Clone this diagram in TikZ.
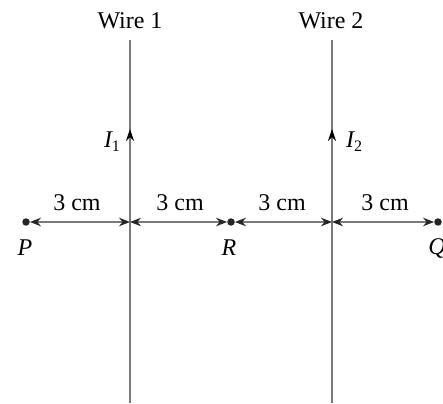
\documentclass[tikz,border=0pt]{standalone}
\usepackage{fontspec}
\setmainfont{Liberation Serif}
\usetikzlibrary{arrows.meta}
\definecolor{wiregray}{HTML}{7A7A7A}
\tikzset{
  wireline/.style={draw=wiregray, line width=1.8pt},
  dimline/.style={draw=wiregray, line width=1.4pt, {Stealth[length=11pt,width=8.5pt,black!85]}-{Stealth[length=11pt,width=8.5pt,black!85]}},
  ptdot/.style={circle, fill=black!85, inner sep=0pt, minimum size=7.5pt},
  lbl/.style={inner sep=0pt, font=\fontsize{24}{27}\selectfont},
  curarrow/.style={draw=none, -{Stealth[length=12pt,width=8pt,black]}},
}
\newcommand{\sub}[1]{\raisebox{-0.35ex}{\upshape\fontsize{16}{16}\selectfont #1}}
\begin{document}
\begin{tikzpicture}[x=1pt,y=-1pt]
\useasboundingbox (0,0) rectangle (443,403);
% wires
\coordinate (w1t) at (130,40);
\coordinate (w1b) at (130,403);
\coordinate (w2t) at (332,40);
\coordinate (w2b) at (332,403);
\path[wireline] (w1t) -- (w1b);
\path[wireline] (w2t) -- (w2b);
\node[lbl] (wl1) at (130,21) {Wire 1};
\node[lbl] (wl2) at (331,21) {Wire 2};
% current arrows
\coordinate (i1s) at (130,150);
\coordinate (i1e) at (130,129);
\coordinate (i2s) at (332,150);
\coordinate (i2e) at (332,129);
\draw[curarrow, draw=wiregray, line width=1.8pt] (i1s) -- (i1e);
\draw[curarrow, draw=wiregray, line width=1.8pt] (i2s) -- (i2e);
\node[lbl] (I1) at (112,142) {\itshape I\sub{1}};
\node[lbl] (I2) at (354,142) {\itshape I\sub{2}};
% points
\node[ptdot] (P) at (26,222) {};
\node[ptdot] (R) at (231,222) {};
\node[ptdot] (Q) at (438,222) {};
\coordinate (x1) at (130,222);
\coordinate (x2) at (332,222);
\draw[dimline] (P) -- (x1);
\draw[dimline] (x1) -- (R);
\draw[dimline] (R) -- (x2);
\draw[dimline] (x2) -- (Q);
\node[lbl] (d1) at (77,203) {3 cm};
\node[lbl] (d2) at (180,203) {3 cm};
\node[lbl] (d3) at (282,203) {3 cm};
\node[lbl] (d4) at (385,203) {3 cm};
\node[lbl] (Pl) at (25,248) {\itshape P};
\node[lbl] (Rl) at (229,248) {\itshape R};
\node[lbl] (Ql) at (437,248) {\itshape Q};
\end{tikzpicture}
\end{document}
